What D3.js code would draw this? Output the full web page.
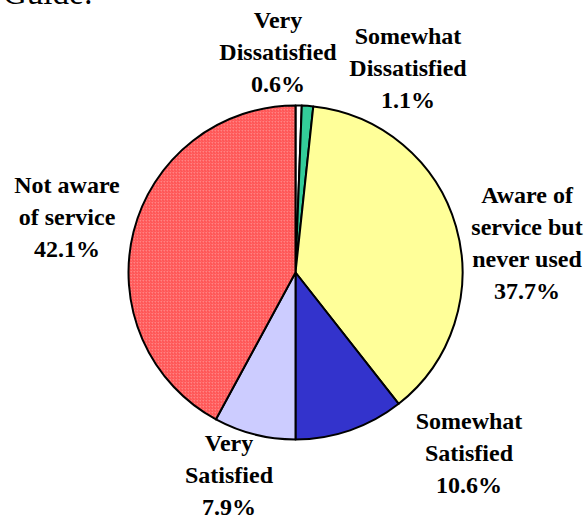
<!DOCTYPE html>
<html>
<head>
<meta charset="utf-8">
<script src="https://cdn.jsdelivr.net/npm/d3@7"></script>
<style>
  svg text, svg tspan { font-family: 'Liberation Serif', Tinos, 'Times New Roman', 'Noto Serif', serif !important; }
</style>
</head>
<body style="margin:0">
<svg></svg>
<script>
let categories = ['Very Dissatisfied', 'Somewhat Dissatisfied', 'Aware of service but never used', 'Somewhat Satisfied', 'Very Satisfied', 'Not aware of service']
let values = [0.6, 1.1, 37.7, 10.6, 7.9, 42.1]
let labelLines = [
  ['Very', 'Dissatisfied', '0.6%'],
  ['Somewhat', 'Dissatisfied', '1.1%'],
  ['Aware of', 'service but', 'never used', '37.7%'],
  ['Somewhat', 'Satisfied', '10.6%'],
  ['Very', 'Satisfied', '7.9%'],
  ['Not aware', 'of service', '42.1%']
]
let colors = ['#ffffff', '#33cc99', '#ffff99', '#3333cc', '#ccccff', 'url(#redHatch)']

let width = 587
let height = 519
let cx = 295.5
let cy = 272.5
let radius = 167
let lineGap = 32
let fontName = "'Liberation Serif', Tinos, 'Times New Roman', serif"

// where each label block sits (centre x, first baseline y)
let labelPos = [
  [278, 28],
  [408, 44],
  [527, 203],
  [469, 429],
  [229, 451],
  [67, 193]
]

let svg = d3.select('svg')
  .attr('width', width)
  .attr('height', height)
  .attr('font-family', fontName)

let draw = () => {
  svg.selectAll('*').remove()

  let defs = svg.append('defs')
  let pat = defs.append('pattern')
    .attr('id', 'redHatch')
    .attr('width', 3)
    .attr('height', 3)
    .attr('patternUnits', 'userSpaceOnUse')
  pat.append('rect').attr('width', 3).attr('height', 3).attr('fill', '#ffb8b8')
  pat.append('rect').attr('x', 0).attr('y', 0).attr('width', 1.5).attr('height', 1.5).attr('fill', '#ff2a2a')
  pat.append('rect').attr('x', 1.5).attr('y', 1.5).attr('width', 1.5).attr('height', 1.5).attr('fill', '#ff2a2a')
  pat.append('rect').attr('x', 1.5).attr('y', 0).attr('width', 1.5).attr('height', 1.5).attr('fill', '#ff5555')

  // title, cut off at the top edge
  svg.append('text')
    .attr('x', 3)
    .attr('y', 4)
    .attr('font-family', fontName)
    .attr('font-size', 33)
    .text('Guide:')

  let pie = d3.pie().sort(null).value((d) => d)
  let arc = d3.arc().innerRadius(0).outerRadius(radius)

  let g = svg.append('g')
    .attr('transform', 'translate(' + cx + ',' + cy + ')')

  g.selectAll('path')
    .data(pie(values))
    .enter()
    .append('path')
    .attr('d', arc)
    .attr('fill', (d, i) => colors[i])
    .attr('stroke', '#000')
    .attr('stroke-width', 2)
    .attr('stroke-linejoin', 'round')

  labelLines.forEach((lines, i) => {
    let t = svg.append('text')
      .attr('x', labelPos[i][0])
      .attr('y', labelPos[i][1])
      .attr('text-anchor', 'middle')
      .attr('font-family', fontName)
      .attr('font-weight', 'bold')
      .attr('font-size', 24)
    lines.forEach((line, j) => {
      t.append('tspan')
        .attr('x', labelPos[i][0])
        .attr('y', labelPos[i][1] + j * lineGap)
        .text(line)
    })
  })
}

draw()
if (document.fonts) {
  document.fonts.load('bold 24px "Liberation Serif"').then(draw, () => {})
}
</script>
</body>
</html>
